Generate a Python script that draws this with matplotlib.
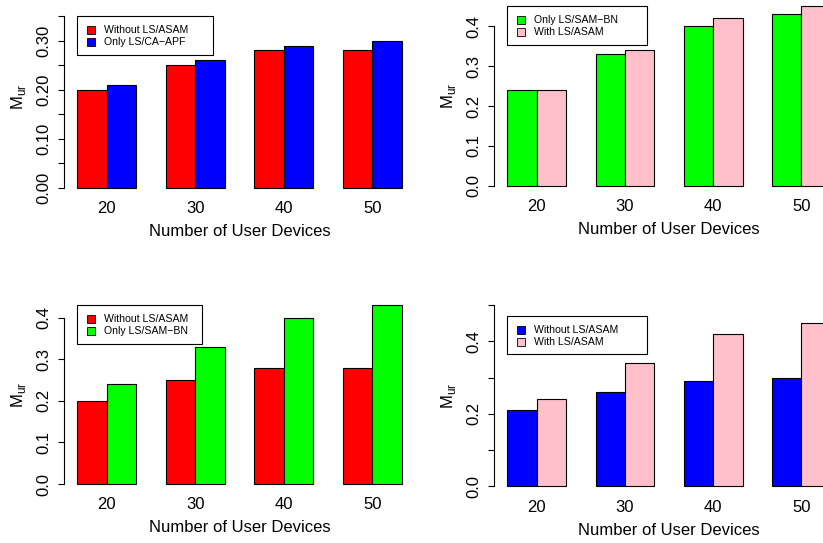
import matplotlib.pyplot as plt
from matplotlib.patches import Rectangle
from matplotlib.transforms import IdentityTransform
import numpy as np

plt.rcParams['font.family'] = ['Liberation Sans', 'DejaVu Sans']

W, H = 823, 543

devices = ['20', '30', '40', '50']
without_ls = [0.20, 0.25, 0.28, 0.28]
only_ca_apf = [0.21, 0.26, 0.29, 0.30]
only_sam_bn = [0.24, 0.33, 0.40, 0.43]
with_ls = [0.24, 0.34, 0.42, 0.45]
without_ls_blue = [0.21, 0.26, 0.29, 0.30]

RED, BLUE, GREEN, PINK = '#ff0000', '#0000ff', '#00ff00', '#ffc0cb'

fig = plt.figure(figsize=(W / 100, H / 100), dpi=100)


def panel(rect, ymax, ticks, ticklabels, series, names, colors, leg_top, leg_w):
    l, t, w, h = rect
    ax = fig.add_axes([l / W, 1 - (t + h) / H, w / W, h / H])
    x = np.arange(len(devices)) * 3 + 1
    for k, (vals, c) in enumerate(zip(series, colors)):
        ax.bar(x + k, vals, width=1, align='edge', color=c,
               edgecolor='black', linewidth=0.8)
    ax.set_xlim(0.56, 12.44)
    ax.set_ylim(-0.04 * ymax, 1.04 * ymax)
    for s in ['top', 'right', 'bottom']:
        ax.spines[s].set_visible(False)
    ax.spines['left'].set_bounds(ticks[0], ticks[-1])
    ax.spines['left'].set_linewidth(0.8)
    ax.set_yticks(ticks, ticklabels)
    ax.tick_params(axis='y', length=4.3, width=0.8, pad=5, labelsize=12)
    for lab in ax.get_yticklabels():
        lab.set_rotation(90)
        lab.set_va('center')
    ax.set_xticks(x + 1, devices)
    ax.tick_params(axis='x', length=0, pad=4.3, labelsize=12)
    ax.text(0.5, -36.5 / h, 'Number of User Devices', transform=ax.transAxes,
            ha='center', va='center', fontsize=12)
    ax.text(-46 / w, 0.5, r'M$_{\mathregular{ur}}$', transform=ax.transAxes,
            rotation=90, ha='center', va='center', fontsize=12)

    # legend box, top-left corner at first bar / leg_top
    px, py = ax.transData.transform((1, leg_top))
    tr = IdentityTransform()
    fig.add_artist(Rectangle((px, py - 38.5), leg_w, 38.5, transform=tr,
                             facecolor='white', edgecolor='black', linewidth=0.8))
    for i, (n, c) in enumerate(zip(names, colors)):
        cy = py - 13.6 - 12.4 * i
        fig.add_artist(Rectangle((px + 10, cy - 4), 8, 8, transform=tr,
                                 facecolor=c, edgecolor='black', linewidth=0.6))
        fig.text(px + 27, cy, n, transform=tr, ha='left', va='center',
                 fontsize=7.6)
    return ax


panel((64.3, -0.9, 350.5, 195.8), 0.37,
      [0, 0.05, 0.10, 0.15, 0.20, 0.25, 0.30, 0.35],
      ['0.00', '', '0.10', '', '0.20', '', '0.30', ''],
      [without_ls, only_ca_apf], ['Without LS/ASAM', 'Only LS/CA\u2212APF'],
      [RED, BLUE], 0.35, 136)

panel((494.4, -0.8, 349.3, 193.7), 0.45,
      [0, 0.1, 0.2, 0.3, 0.4],
      ['0.0', '0.1', '0.2', '0.3', '0.4'],
      [only_sam_bn, with_ls], ['Only LS/SAM\u2212BN', 'With LS/ASAM'],
      [GREEN, PINK], 0.45, 139.7)

panel((64.3, 298.0, 350.5, 193.2), 0.43,
      [0, 0.1, 0.2, 0.3, 0.4],
      ['0.0', '0.1', '0.2', '0.3', '0.4'],
      [without_ls, only_sam_bn], ['Without LS/ASAM', 'Only LS/SAM\u2212BN'],
      [RED, GREEN], 0.43, 125)

panel((494.4, 297.8, 349.3, 195.8), 0.5,
      [0, 0.1, 0.2, 0.3, 0.4, 0.5],
      ['0.0', '', '0.2', '', '0.4', ''],
      [without_ls_blue, with_ls], ['Without LS/ASAM', 'With LS/ASAM'],
      [BLUE, PINK], 0.47, 139.7)

fig.savefig('out.png', dpi=100)
